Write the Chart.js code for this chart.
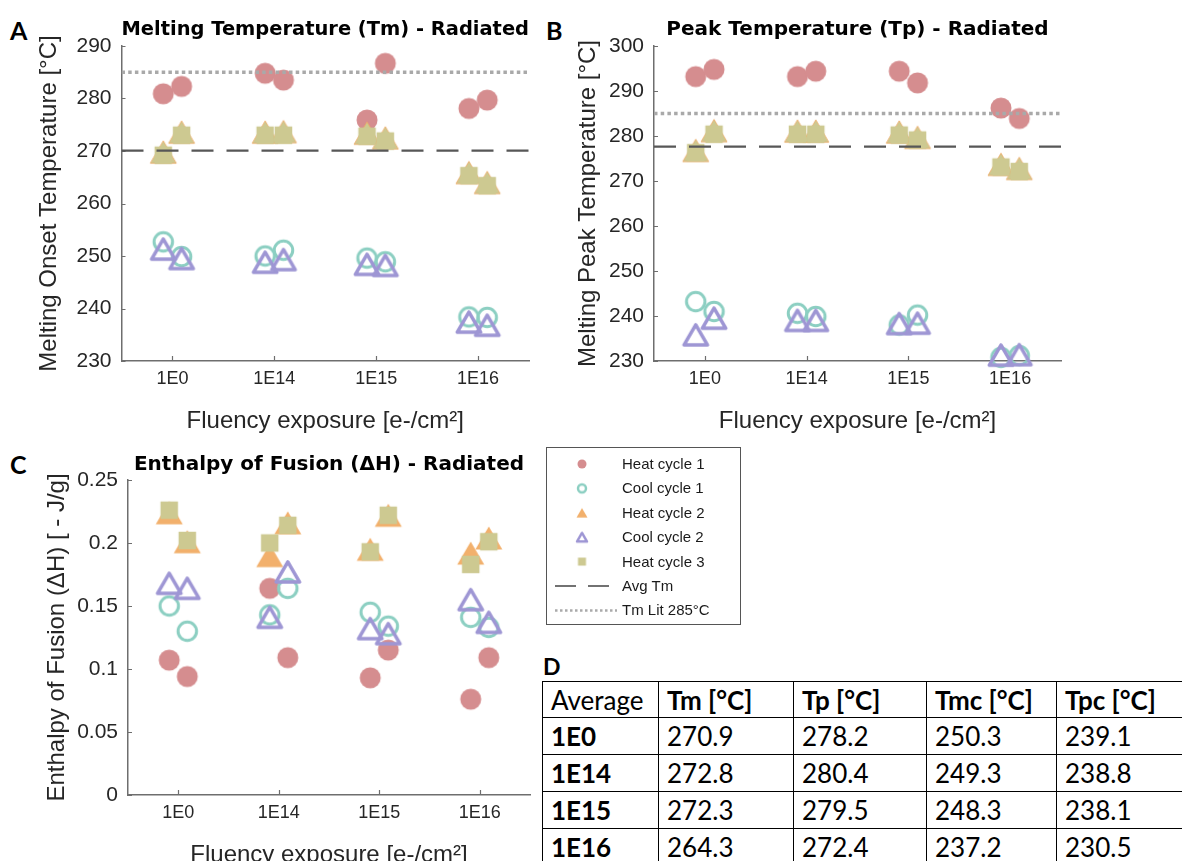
<!DOCTYPE html>
<html lang="en">
<head>
<meta charset="UTF-8">
<title>Radiated - Melting, Peak and Enthalpy</title>
<script src="https://cdn.jsdelivr.net/npm/chart.js"></script>
<style>
  html, body { margin: 0; padding: 0; background: #fff; }
  body { width: 1182px; height: 861px; overflow: hidden; position: relative; }
  canvas.plot { position: absolute; }
  .letter { position: absolute; font-family: Lato, sans-serif; font-weight: 700; line-height: 1; color: #000; }
  #legend { position: absolute; left: 546px; top: 447px; width: 195px; height: 178px; border: 1px solid #555; box-sizing: border-box; }
  #legend canvas { position: absolute; left: 0; top: 0; }
  #legend span { position: absolute; left: 75px; font-family: "Liberation Sans", Arial, sans-serif; font-size: 15px; line-height: 18px; color: #1a1a1a; white-space: nowrap; }
  #avg { position: absolute; left: 542px; top: 681px; border-collapse: collapse; table-layout: fixed; font-family: Lato, sans-serif; font-size: 26px; color: #000; }
  #avg td { border: 1.5px solid #000; padding: 0 0 0 8px; white-space: nowrap; overflow: hidden; line-height: 1; }
  #avg td.b { font-weight: 700; }
</style>
</head>
<body>

<div class="letter" style="left:10px; top:18px; font-size:25px;">A</div>
<div class="letter" style="left:546px; top:18px; font-size:25px;">B</div>
<div class="letter" style="left:10px; top:452px; font-size:25px;">C</div>
<div class="letter" style="left:543px; top:655px; font-size:23px;">D</div>

<canvas id="chartA" class="plot" width="540" height="440" style="left:0; top:0;"></canvas>
<canvas id="chartB" class="plot" width="642" height="440" style="left:540px; top:0;"></canvas>
<canvas id="chartC" class="plot" width="540" height="460" style="left:0; top:430px;"></canvas>

<div id="legend"><canvas id="legendIcons" width="195" height="178"></canvas></div>
<table id="avg"></table>

<script>
    // categories and tick labels
    const fluency = ['1E0', '1E14', '1E15', '1E16'];
    const seriesNames = ['Heat cycle 1', 'Cool cycle 1', 'Heat cycle 2', 'Cool cycle 2', 'Heat cycle 3'];
    const lineNames = ['Avg Tm', 'Tm Lit 285°C'];
    const tmTicks = [230, 240, 250, 260, 270, 280, 290];
    const tpTicks = [230, 240, 250, 260, 270, 280, 290, 300];
    const dhTicks = [0, 0.05, 0.1, 0.15, 0.2, 0.25];
    const tmLit = 285;

    // A - melting onset [°C], two samples per fluency
    const tmHeat1 = [[280.9, 282.3], [284.8, 283.5], [275.9, 286.7], [278.1, 279.7]];
    const tmCool1 = [[252.7, 249.9], [250.0, 251.1], [249.6, 248.9], [238.4, 238.3]];
    const tmHeat2 = [[269.8, 273.6], [273.6, 273.7], [273.4, 272.5], [265.9, 264.0]];
    const tmCool2 = [[251.3, 249.5], [248.8, 249.3], [248.4, 248.2], [237.4, 236.8]];
    const tmHeat3 = [[269.2, 273.0], [273.0, 273.0], [272.8, 271.9], [265.3, 263.4]];

    // B - melting peak [°C]
    const tpHeat1 = [[293.2, 294.8], [293.2, 294.4], [294.4, 291.8], [286.2, 283.9]];
    const tpCool1 = [[243.2, 241.0], [240.6, 239.9], [238.0, 240.2], [230.8, 231.2]];
    const tpHeat2 = [[276.8, 281.2], [281.1, 281.1], [280.9, 279.7], [273.7, 272.8]];
    const tpCool2 = [[235.8, 239.5], [239.0, 239.0], [238.3, 238.4], [231.3, 231.4]];
    const tpHeat3 = [[276.3, 280.4], [280.4, 280.4], [280.2, 279.1], [273.1, 272.1]];

    // C - enthalpy of fusion [-J/g]
    const dhHeat1 = [[0.107, 0.094], [0.164, 0.109], [0.093, 0.115], [0.076, 0.109]];
    const dhCool1 = [[0.150, 0.130], [0.143, 0.164], [0.145, 0.134], [0.141, 0.133]];
    const dhHeat2 = [[0.224, 0.201], [0.190, 0.216], [0.195, 0.222], [0.192, 0.204]];
    const dhCool2 = [[0.168, 0.164], [0.141, 0.177], [0.132, 0.128], [0.155, 0.137]];
    const dhHeat3 = [[0.226, 0.202], [0.200, 0.214], [0.193, 0.222], [0.183, 0.201]];

    // D - averages table
    const tableHead = ['Average', 'Tm [°C]', 'Tp [°C]', 'Tmc [°C]', 'Tpc [°C]'];
    const tableTm = [270.9, 272.8, 272.3, 264.3];
    const tableTp = [278.2, 280.4, 279.5, 272.4];
    const tableTmc = [250.3, 249.3, 248.3, 237.2];
    const tableTpc = [239.1, 238.8, 238.1, 230.5];

    const mean = a => a.reduce((s, v) => s + v, 0) / a.length;

    const sans = '"Liberation Sans", Arial, sans-serif';
    const titleFont = '"DejaVu Sans", sans-serif';
    const axisColor = '#6e6e6e';
    const textColor = '#262626';
    const pink = 'rgb(213,141,143)';
    const teal = 'rgb(140,207,194)';
    const orange = 'rgb(242,176,108)';
    const purple = 'rgb(158,150,212)';
    const olive = 'rgb(205,201,145)';
    const jitter = [-0.09, 0.09];

    Chart.defaults.font.family = sans;

    // marker images, centred on their box like MATLAB markers
    function makeMarker(shape, size, fill, stroke, lw) {
        lw = lw || 0;
        const c = document.createElement('canvas');
        const s = Math.ceil(size + lw + 3);
        c.width = s; c.height = s;
        const g = c.getContext('2d');
        const m = s / 2, r = size / 2;
        g.beginPath();
        if (shape === 'circle') {
            g.arc(m, m, r, 0, Math.PI * 2);
        } else if (shape === 'square') {
            g.rect(m - r, m - r, size, size);
        } else {
            const h = size * 0.86;
            g.moveTo(m, m - h / 2);
            g.lineTo(m + r, m + h / 2);
            g.lineTo(m - r, m + h / 2);
            g.closePath();
        }
        if (fill) { g.fillStyle = fill; g.fill(); }
        if (stroke) { g.strokeStyle = stroke; g.lineWidth = lw; g.lineJoin = 'round'; g.stroke(); }
        return c;
    }

    const mk = {
        heat1: makeMarker('circle', 21, pink),
        cool1: makeMarker('circle', 18.5, null, teal, 3),
        heat2: makeMarker('triangle', 27, orange),
        heat2ab: makeMarker('triangle', 26, olive, 'rgba(236,172,105,0.85)', 1),
        cool2: makeMarker('triangle', 23.5, null, purple, 3.5),
        heat3: makeMarker('square', 17.5, olive)
    };

    function points(values) {
        const pts = [];
        values.forEach((pair, i) => pair.forEach((v, j) => pts.push({ x: i + 1 + jitter[j], y: v })));
        return pts;
    }

    function scatterSet(label, values, style, order) {
        return { label, data: points(values), pointStyle: style, pointRadius: 10, showLine: false, clip: false, order };
    }

    function hline(label, value, color, width, dash) {
        return {
            label, data: [{ x: 0.5, y: value }, { x: 4.5, y: value }],
            showLine: true, borderColor: color, borderWidth: width, borderDash: dash,
            pointRadius: 0, fill: false, order: 0
        };
    }

    // small tick marks drawn inside the axes
    const inwardTicks = {
        id: 'inwardTicks',
        beforeDatasetsDraw(chart) {
            const { ctx, chartArea: a, scales: { x, y } } = chart;
            ctx.save();
            ctx.strokeStyle = axisColor;
            ctx.lineWidth = 1.2;
            ctx.beginPath();
            x.ticks.forEach(t => {
                const px = Math.round(x.getPixelForValue(t.value)) + 0.5;
                ctx.moveTo(px, a.bottom); ctx.lineTo(px, a.bottom - 5);
            });
            y.ticks.forEach(t => {
                const py = Math.round(y.getPixelForValue(t.value)) + 0.5;
                ctx.moveTo(a.left, py); ctx.lineTo(a.left + 4, py);
            });
            ctx.stroke();
            ctx.restore();
        }
    };

    // y axis title, allowed to run past the plot height like the original
    const yTitle = {
        id: 'yTitle',
        afterDraw(chart, args, opts) {
            const { ctx, chartArea: a } = chart;
            ctx.save();
            ctx.translate(opts.x, (a.top + a.bottom) / 2);
            ctx.rotate(-Math.PI / 2);
            ctx.font = '24px ' + sans;
            ctx.fillStyle = textColor;
            ctx.textAlign = 'center';
            ctx.textBaseline = 'middle';
            ctx.fillText(opts.text, 0, 0);
            ctx.restore();
        }
    };

    function buildPanel(id, p) {
        return new Chart(document.getElementById(id), {
            type: 'scatter',
            data: { datasets: p.datasets },
            options: {
                responsive: false,
                animation: false,
                events: [],
                layout: { padding: { left: 0, top: 0, bottom: 0, right: p.padRight }, autoPadding: false },
                plugins: {
                    legend: { display: false },
                    tooltip: { enabled: false },
                    title: {
                        display: true, text: p.title, fullSize: false, color: '#000',
                        font: { family: titleFont, size: 20, weight: 'bold' },
                        padding: p.titlePad
                    },
                    yTitle: { text: p.yTitle, x: p.yTitleX }
                },
                scales: {
                    x: {
                        type: 'linear', min: 0.5, max: 4.5,
                        afterBuildTicks: s => { s.ticks = fluency.map((_, i) => ({ value: i + 1 })); },
                        afterFit: s => { s.height = p.xHeight; },
                        grid: { display: false, drawTicks: false },
                        border: { display: true, color: axisColor, width: 1.5 },
                        ticks: {
                            callback: v => fluency[Math.round(v) - 1],
                            color: textColor, font: { size: 18 }, padding: 7,
                            autoSkip: false, maxRotation: 0
                        },
                        title: {
                            display: true, text: 'Fluency exposure [e-/cm²]', color: textColor,
                            font: { size: 24 }, padding: { top: 0, bottom: p.xTitleBottom }
                        }
                    },
                    y: {
                        min: p.yTicks[0], max: p.yTicks[p.yTicks.length - 1],
                        afterBuildTicks: s => { s.ticks = p.yTicks.map(v => ({ value: v })); },
                        afterFit: s => { s.width = p.yWidth; },
                        grid: { display: false, drawTicks: false },
                        border: { display: true, color: axisColor, width: 1.5 },
                        ticks: { callback: v => String(v), color: textColor, font: { size: 21 }, padding: 10 }
                    }
                }
            },
            plugins: [inwardTicks, yTitle]
        });
    }

    buildPanel('chartA', {
        title: 'Melting Temperature (Tm) - Radiated',
        yTitle: 'Melting Onset Temperature [°C]', yTitleX: 49,
        yTicks: tmTicks, yWidth: 121.5, padRight: 11, xHeight: 79,
        titlePad: { top: 18, bottom: 4 }, xTitleBottom: 4.5,
        datasets: [
            hline(lineNames[0], mean(tableTm), '#575757', 2.2, [22, 13]),
            hline(lineNames[1], tmLit, '#a9a9a9', 3.5, [3.5, 3.2]),
            scatterSet(seriesNames[0], tmHeat1, mk.heat1, 5),
            scatterSet(seriesNames[1], tmCool1, mk.cool1, 4),
            scatterSet(seriesNames[2], tmHeat2, mk.heat2ab, 3),
            scatterSet(seriesNames[3], tmCool2, mk.cool2, 2),
            scatterSet(seriesNames[4], tmHeat3, mk.heat3, 1)
        ]
    });

    buildPanel('chartB', {
        title: 'Peak Temperature (Tp) - Radiated',
        yTitle: 'Melting Peak Temperature [°C]', yTitleX: 48,
        yTicks: tpTicks, yWidth: 114, padRight: 121, xHeight: 79,
        titlePad: { top: 18, bottom: 4 }, xTitleBottom: 4.5,
        datasets: [
            hline(lineNames[0], mean(tableTp), '#575757', 2.2, [22, 13]),
            hline(lineNames[1], tmLit, '#a9a9a9', 3.5, [3.5, 3.2]),
            scatterSet(seriesNames[0], tpHeat1, mk.heat1, 5),
            scatterSet(seriesNames[1], tpCool1, mk.cool1, 4),
            scatterSet(seriesNames[2], tpHeat2, mk.heat2ab, 3),
            scatterSet(seriesNames[3], tpCool2, mk.cool2, 2),
            scatterSet(seriesNames[4], tpHeat3, mk.heat3, 1)
        ]
    });

    buildPanel('chartC', {
        title: 'Enthalpy of Fusion (ΔH) - Radiated',
        yTitle: 'Enthalpy of Fusion (ΔH) [ - J/g]', yTitleX: 57,
        yTicks: dhTicks, yWidth: 128, padRight: 10, xHeight: 95,
        titlePad: { top: 23, bottom: 3 }, xTitleBottom: 20.5,
        datasets: [
            scatterSet(seriesNames[0], dhHeat1, mk.heat1, 5),
            scatterSet(seriesNames[1], dhCool1, mk.cool1, 4),
            scatterSet(seriesNames[2], dhHeat2, mk.heat2, 3),
            scatterSet(seriesNames[3], dhCool2, mk.cool2, 2),
            scatterSet(seriesNames[4], dhHeat3, mk.heat3, 1)
        ]
    });

    // legend box
    const legend = document.getElementById('legend');
    const lg = document.getElementById('legendIcons').getContext('2d');
    const legendIcons = [
        makeMarker('circle', 9, pink),
        makeMarker('circle', 8, null, teal, 2.5),
        makeMarker('triangle', 11, orange),
        makeMarker('triangle', 10, null, purple, 2.5),
        makeMarker('square', 8, olive)
    ];
    const rowY = k => 16 + k * 24.4;
    legendIcons.forEach((ic, k) => lg.drawImage(ic, 35 - ic.width / 2, rowY(k) - ic.height / 2));
    lg.strokeStyle = '#444'; lg.lineWidth = 1.5;
    lg.setLineDash([21, 12]);
    lg.beginPath(); lg.moveTo(8, rowY(5)); lg.lineTo(62, rowY(5)); lg.stroke();
    lg.strokeStyle = '#aaa'; lg.lineWidth = 2.5;
    lg.setLineDash([2.5, 2.5]);
    lg.beginPath(); lg.moveTo(8, rowY(6)); lg.lineTo(70, rowY(6)); lg.stroke();
    seriesNames.concat(lineNames).forEach((name, k) => {
        const s = document.createElement('span');
        s.textContent = name;
        s.style.top = (rowY(k) - 9) + 'px';
        legend.appendChild(s);
    });

    // table D
    const table = document.getElementById('avg');
    const colW = [116, 135, 133, 130, 140];
    const rowH = [36, 37, 37, 37, 37];
    const cg = document.createElement('colgroup');
    colW.forEach(w => { const c = document.createElement('col'); c.style.width = w + 'px'; cg.appendChild(c); });
    table.appendChild(cg);
    table.style.width = colW.reduce((s, w) => s + w, 0) + 'px';
    const rows = [tableHead].concat(fluency.map((f, i) =>
        [f, tableTm[i].toFixed(1), tableTp[i].toFixed(1), tableTmc[i].toFixed(1), tableTpc[i].toFixed(1)]));
    rows.forEach((r, i) => {
        const tr = document.createElement('tr');
        tr.style.height = rowH[i] + 'px';
        r.forEach((cell, j) => {
            const td = document.createElement('td');
            td.textContent = cell;
            if ((i === 0 && j > 0) || (i > 0 && j === 0)) td.className = 'b';
            tr.appendChild(td);
        });
        table.appendChild(tr);
    });
</script>

</body>
</html>
